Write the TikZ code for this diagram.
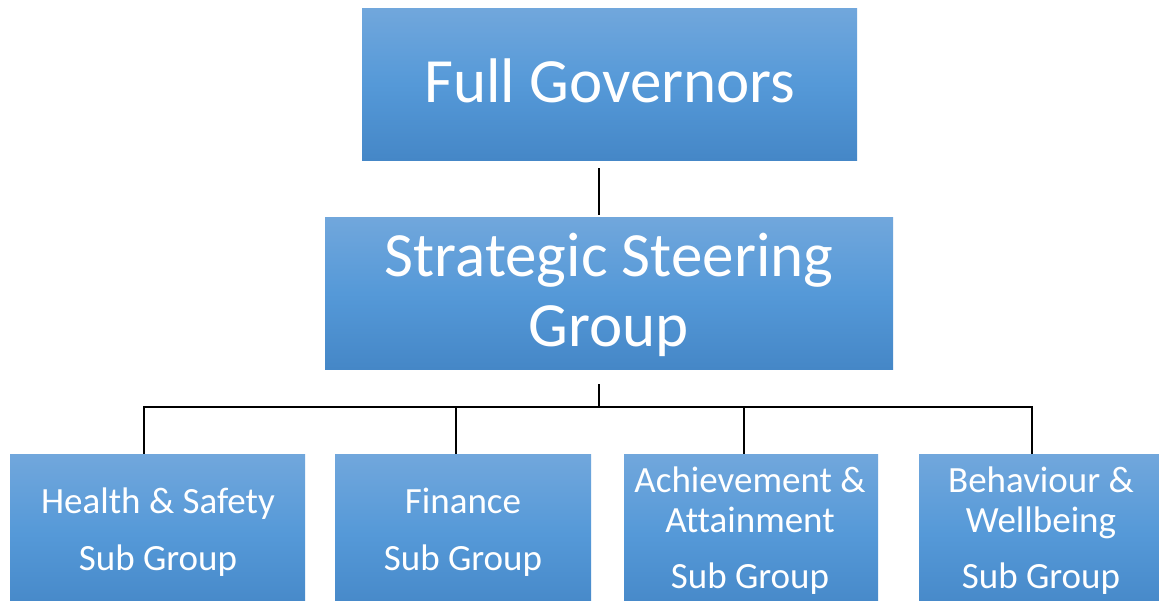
\documentclass[tikz,border=0pt]{standalone}
\usepackage{fontspec}
\setmainfont[Ligatures=NoCommon]{Carlito}
\definecolor{boxtop}{HTML}{71A7DC}
\definecolor{boxmid}{HTML}{5599D8}
\definecolor{boxbot}{HTML}{4587C7}
\begin{document}
\begin{tikzpicture}[x=1pt,y=-1pt,
  box/.style={rectangle, draw=none, inner sep=0pt, top color=boxtop, bottom color=boxbot, middle color=boxmid},
  lbl/.style={text=white, inner sep=0pt, anchor=base},
  big/.style={font=\fontsize{63}{63}\selectfont},
  small/.style={font=\fontsize{37}{37}\selectfont},
  conn/.style={line width=2pt, draw=black}]
\useasboundingbox (0,0) rectangle (1159,600);
\clip (0,0) rectangle (1159,600);
\fill[white] (0,0) rectangle (1159,600);
% boxes
\node[box, minimum width=495pt, minimum height=152pt] (fg) at (609.5,84) {};
\node[box, minimum width=568pt, minimum height=152pt] (ssg) at (609,293) {};
\node[box, minimum width=295pt, minimum height=160pt] (b1) at (157.5,534) {};
\node[box, minimum width=256pt, minimum height=160pt] (b2) at (463,534) {};
\node[box, minimum width=254pt, minimum height=160pt] (b3) at (751,534) {};
\node[box, minimum width=244pt, minimum height=160pt] (b4) at (1041,534) {};
% labels
\node[lbl, big] (fgt) at (610,102) {Full Governors};
\node[lbl, big] (ss1) at (609,276) {Strategic Steering};
\node[lbl, big] (ss2) at (609,346) {Group};
\node[lbl, small] (h1) at (158,513) {Health \& Safety};
\node[lbl, small] (h2) at (158,570) {Sub Group};
\node[lbl, small] (f1) at (463,513) {Finance};
\node[lbl, small] (f2) at (463,570) {Sub Group};
\node[lbl, small] (a1) at (750,492) {Achievement \&};
\node[lbl, small] (a2) at (750,532) {Attainment};
\node[lbl, small] (a3) at (750,588) {Sub Group};
\node[lbl, small] (w1) at (1041,492) {Behaviour \&};
\node[lbl, small] (w2) at (1041,532) {Wellbeing};
\node[lbl, small] (w3) at (1041,588) {Sub Group};
% junctions
\coordinate (j0) at (599,407);
\coordinate (c1) at (144,407);
\coordinate (c2) at (456,407);
\coordinate (c3) at (744,407);
\coordinate (c4) at (1032,407);
% connectors
\draw[conn] ([yshift=-8pt]fg.south -| j0) -- ([yshift=2pt]ssg.north -| j0);
\draw[conn] ([yshift=-15pt]ssg.south -| j0) -- (j0);
\draw[conn, line cap=rect] (c1) -- (c4);
\draw[conn] (c1) -- (c1 |- b1.north);
\draw[conn] (c2) -- (c2 |- b2.north);
\draw[conn] (c3) -- (c3 |- b3.north);
\draw[conn] (c4) -- (c4 |- b4.north);
\end{tikzpicture}
\end{document}
